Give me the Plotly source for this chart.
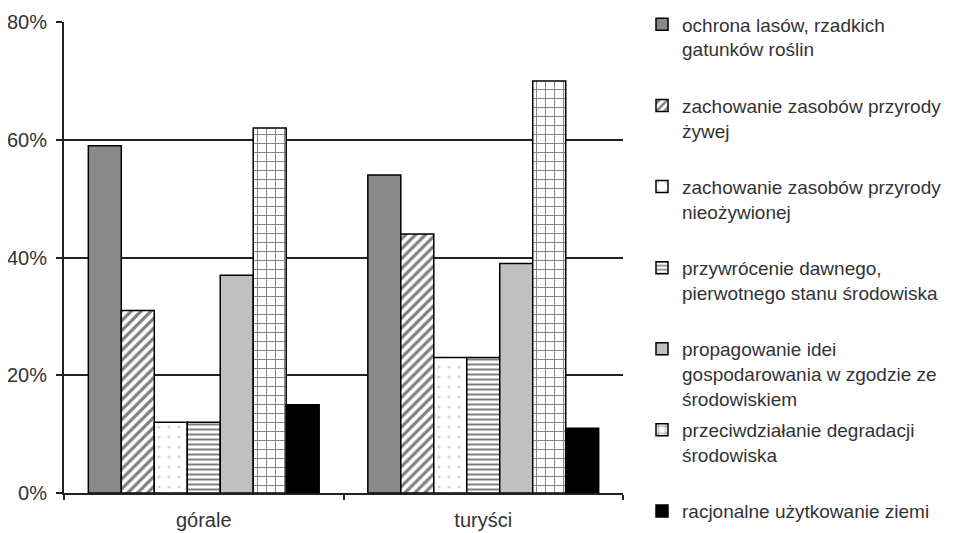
import plotly.graph_objects as go

categories = ["górale", "turyści"]
series_names = [
    "ochrona lasów, rzadkich<br>gatunków roślin",
    "zachowanie zasobów przyrody<br>żywej",
    "zachowanie zasobów przyrody<br>nieożywionej",
    "przywrócenie dawnego,<br>pierwotnego stanu środowiska",
    "propagowanie idei<br>gospodarowania w zgodzie ze<br>środowiskiem",
    "przeciwdziałanie degradacji<br>środowiska",
    "racjonalne użytkowanie ziemi",
]
gorale = [59, 31, 12, 12, 37, 62, 15]
turysci = [54, 44, 23, 23, 39, 70, 11]
y_ticks = [0, 20, 40, 60, 80]
y_tick_labels = ["0%", "20%", "40%", "60%", "80%"]

styles = [
    dict(color="#8a8a8a", pattern=None),
    dict(color="white", pattern=dict(shape="/", fgcolor="black", bgcolor="white", size=7, solidity=0.45)),
    dict(color="white", pattern=dict(shape=".", fgcolor="#a8a8a8", bgcolor="white", size=10, solidity=0.08)),
    dict(color="white", pattern=dict(shape="-", fgcolor="black", bgcolor="white", size=5, solidity=0.4)),
    dict(color="#c0c0c0", pattern=None),
    dict(color="white", pattern=dict(shape="+", fgcolor="black", bgcolor="white", size=9, solidity=0.2)),
    dict(color="black", pattern=None),
]

fig = go.Figure()
n = len(series_names)
for i, name in enumerate(series_names):
    lines = name.count("<br>") + 1
    padded = name if i == n - 1 else name + "<br> " * (3 - lines)
    marker = dict(color=styles[i]["color"], line=dict(color="black", width=1.5))
    if styles[i]["pattern"]:
        marker["pattern"] = styles[i]["pattern"]
    fig.add_trace(go.Bar(
        x=categories, y=[gorale[i], turysci[i]], name=padded,
        marker=marker, legendgroup=f"g{i}",
    ))

FONT = "Liberation Sans, Arial, sans-serif"
fig.update_layout(
    width=951, height=525,
    margin=dict(l=56, r=336, t=14, b=40, autoexpand=False),
    paper_bgcolor="white", plot_bgcolor="white",
    barmode="group", bargap=0.174, bargroupgap=0,
    font=dict(family=FONT, size=20, color="#333333"),
    showlegend=True,
    legend=dict(
        xref="paper", yref="paper",
        x=1.034, y=1.035, xanchor="left", yanchor="top",
        valign="top", tracegroupgap=4, maxheight=560,
        font=dict(family=FONT, size=19, color="#333333"),
        bgcolor="rgba(0,0,0,0)", borderwidth=0,
    ),
)
fig.update_yaxes(
    range=[0, 80], tickvals=y_ticks, ticktext=y_tick_labels,
    showgrid=True, gridcolor="#222222", gridwidth=2,
    showline=True, linecolor="#222222", linewidth=2,
    ticks="outside", ticklen=6, tickcolor="#222222", tickwidth=2,
    ticklabelstandoff=5, automargin=False,
    zeroline=False,
)
fig.update_xaxes(
    showline=True, linecolor="#222222", linewidth=2,
    ticks="outside", tickson="boundaries", ticklen=5, tickcolor="#222222", tickwidth=2,
    ticklabelstandoff=8, automargin=False,
    showgrid=False,
)
fig.write_html("out.html")
